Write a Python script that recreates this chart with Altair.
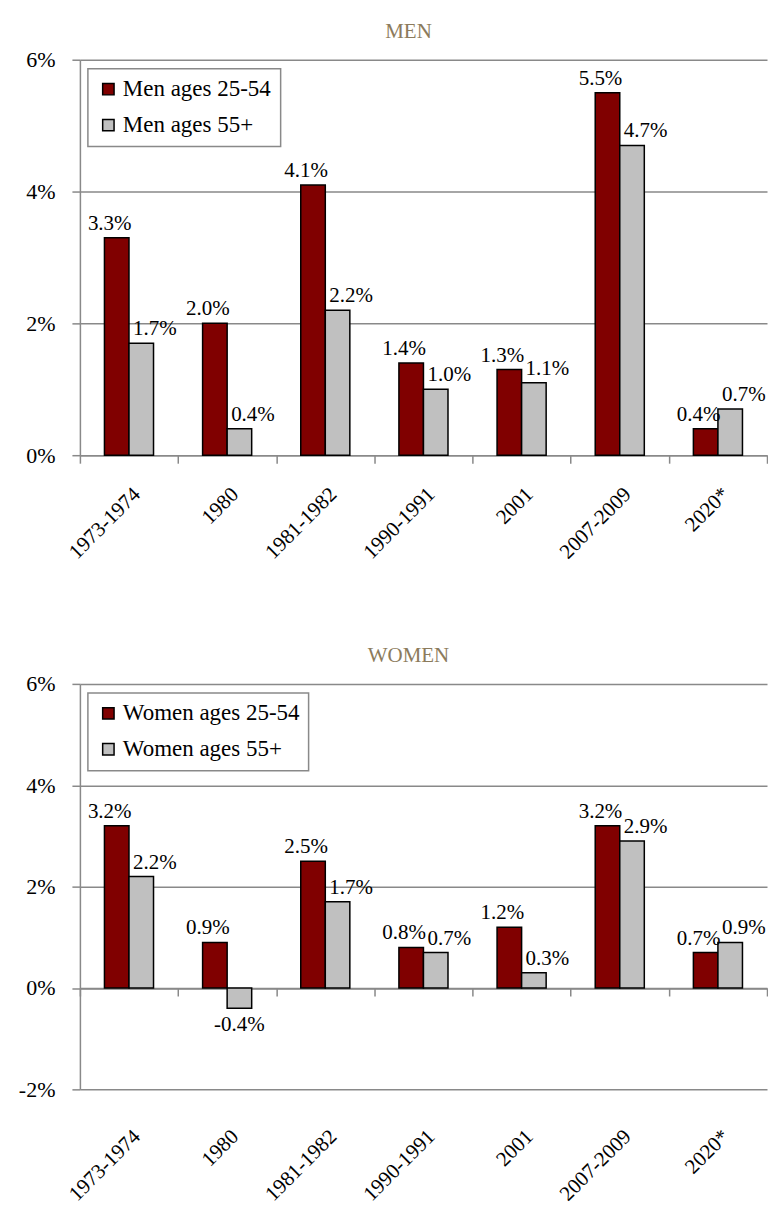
import altair as alt
import pandas as pd

categories = ["1973-1974", "1980", "1981-1982", "1990-1991", "2001", "2007-2009", "2020*"]
men_series = ["Men ages 25-54", "Men ages 55+"]
women_series = ["Women ages 25-54", "Women ages 55+"]
men_prime = [3.3, 2.0, 4.1, 1.4, 1.3, 5.5, 0.4]
men_older = [1.7, 0.4, 2.2, 1.0, 1.1, 4.7, 0.7]
women_prime = [3.2, 0.9, 2.5, 0.8, 1.2, 3.2, 0.7]
women_older = [2.2, -0.4, 1.7, 0.7, 0.3, 2.9, 0.9]
men_ticks = [0, 2, 4, 6]
women_ticks = [-2, 0, 2, 4, 6]

FONT = "'Liberation Serif', 'Times New Roman', serif"
RED = "#800000"
GRAY = "#C0C0C0"
LINE = "#898989"
TITLE_COLOR = "#8C7B5C"
W = 688
STEP = W / len(categories)
BW = STEP / 4  # bar width: each pair of bars fills half of a category slot


def make_df(series, a, b):
    rows = []
    for c, v in zip(categories, a):
        rows.append({"period": c, "group": series[0], "value": v})
    for c, v in zip(categories, b):
        rows.append({"period": c, "group": series[1], "value": v})
    return pd.DataFrame(rows)


def panel(title, series, a, b, ymin, ticks, H, women=False):
    df = make_df(series, a, b)
    base = alt.Chart(df).transform_calculate(
        label="(datum.value < 0 ? '-' : '') + format(abs(datum.value), '.1f') + '%'"
    )
    xscale = alt.Scale(paddingInner=0, paddingOuter=0)
    yscale = alt.Scale(domain=[ymin, 6], nice=False, zero=False)

    label_axis = alt.Axis(
        orient="bottom", title=None, grid=False,
        domain=not women, domainColor=LINE, domainWidth=1.5,
        ticks=not women, tickColor=LINE, tickWidth=1.5, tickSize=8, tickBand="extent",
        labelAngle=-45, labelAlign="right", labelBaseline="top",
        labelFont=FONT, labelFontSize=21, labelColor="black",
        labelPadding=20 if not women else 36,
    )
    yaxis = alt.Axis(
        values=ticks, labelExpr="(datum.value < 0 ? '-' : '') + abs(datum.value) + '%'",
        title=None,
        grid=True, gridColor=LINE, gridWidth=1.5,
        domainColor=LINE, domainWidth=1.5,
        tickColor=LINE, tickWidth=1.5, tickSize=8,
        labelFont=FONT, labelFontSize=22, labelColor="black", labelPadding=17,
    )
    y = alt.Y("value:Q", scale=yscale, axis=yaxis)
    color = alt.Color(
        "group:N",
        scale=alt.Scale(domain=series, range=[RED, GRAY]),
        legend=alt.Legend(
            title=None, orient="none", legendX=8, legendY=9,
            strokeColor=LINE, fillColor="white",
            padding=9, rowPadding=12,
            symbolType="square", symbolSize=130,
            symbolStrokeColor="black", symbolStrokeWidth=1.5,
            labelFont=FONT, labelFontSize=23, labelColor="black", labelOffset=3,
            labelLimit=400,
        ),
    )
    x_main = alt.X("period:N", sort=categories, scale=xscale, axis=label_axis)
    x_none = alt.X("period:N", sort=categories, scale=xscale,
                   axis=None if women else label_axis)

    red_bars = base.transform_filter(alt.datum.group == series[0]).mark_bar(
        stroke="black", strokeWidth=1.5, width=BW, xOffset=-BW / 2
    ).encode(x=x_main, y=y, y2=alt.datum(0), color=color)

    gray_bars = base.transform_filter(alt.datum.group == series[1]).mark_bar(
        stroke="black", strokeWidth=1.5, width=BW, xOffset=BW / 2
    ).encode(x=x_none, y=y, y2=alt.datum(0), color=color)

    if women:
        zero_axis = alt.Axis(
            orient="bottom", title=None, grid=False, labels=False,
            domain=True, domainColor=LINE, domainWidth=1.5,
            ticks=True, tickColor=LINE, tickWidth=1.5, tickSize=8, tickBand="extent",
            offset=-(H * (0 - ymin) / (6 - ymin)),
        )
        x_zero = alt.X("period:N", sort=categories, scale=xscale, axis=zero_axis)
    else:
        x_zero = x_none

    red_txt = base.transform_filter(alt.datum.group == series[0]).mark_text(
        font=FONT, fontSize=21, align="center", baseline="bottom",
        dx=-BW / 2 - 7, dy=-4, color="black"
    ).encode(x=x_zero, y=y, text="label:N")

    gray_txt = base.transform_filter(
        (alt.datum.group == series[1]) & (alt.datum.value >= 0)
    ).mark_text(
        font=FONT, fontSize=21, align="left", baseline="bottom", dx=4, dy=-4, color="black"
    ).encode(x=x_none, y=y, text="label:N")

    neg_txt = base.transform_filter(alt.datum.value < 0).mark_text(
        font=FONT, fontSize=21, align="center", baseline="top", dx=BW / 2, dy=6, color="black"
    ).encode(x=x_none, y=y, text="label:N")

    layer = alt.layer(red_bars, gray_bars, red_txt, gray_txt, neg_txt).properties(
        width=W, height=H,
        title=alt.TitleParams(
            title, font=FONT, fontSize=21, fontWeight="normal", color=TITLE_COLOR,
            anchor="middle", dx=-15, offset=7,
        ),
    )
    if women:
        layer = layer.resolve_axis(x="independent")
    return layer


men = panel("MEN", men_series, men_prime, men_older, 0, men_ticks, 396)
women = panel("WOMEN", women_series, women_prime, women_older, -2, women_ticks, 406, women=True)

chart = alt.vconcat(men, women, spacing=82).resolve_scale(color="independent").properties(
    padding={"left": 10, "top": 12, "right": 0, "bottom": 0}
).configure_view(strokeWidth=0).configure_legend(strokeWidth=1.5)

chart.save("out.html", embed_options={"renderer": "svg", "actions": False})
